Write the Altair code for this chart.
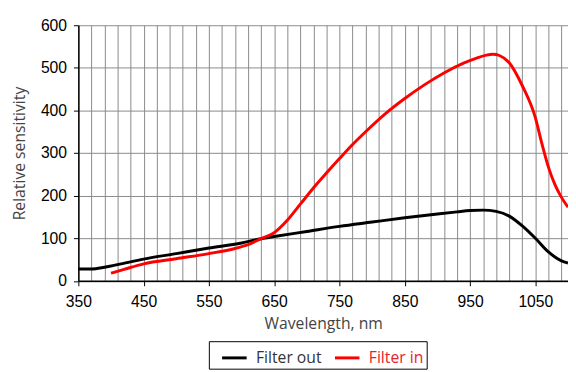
import altair as alt
import pandas as pd

# Filter out (black)
wl_out = [350, 370, 390, 410, 450, 500, 550, 600, 630, 650, 700, 750, 800, 850, 900,
          930, 950, 970, 990, 1010, 1030, 1050, 1070, 1090, 1100]
val_out = [28, 28, 32, 38, 51, 64, 77, 89, 99, 104, 116, 128, 138, 148, 157,
           162, 165, 166, 163, 152, 129, 100, 68, 47, 42]

# Filter in (red)
wl_in = [400, 420, 450, 500, 550, 590, 610, 630, 650, 670, 690, 710, 730, 750, 770,
         790, 820, 850, 880, 910, 940, 960, 975, 985, 995, 1010, 1030, 1050, 1060, 1070,
         1080, 1090, 1100]
val_in = [18, 27, 40, 52, 64, 76, 85, 99, 113, 142, 180, 218, 253, 287, 320,
          350, 392, 428, 460, 488, 511, 523, 530, 532, 529, 512, 458, 383, 322, 267,
          226, 196, 173]

series = ["Filter out", "Filter in"]
colors = ["#000000", "#ff0000"]

x_labels = [350, 450, 550, 650, 750, 850, 950, 1050]
x_grid = list(range(350, 1101, 20))
y_ticks = [0, 100, 200, 300, 400, 500, 600]

df = pd.concat([
    pd.DataFrame({"wl": wl_out, "val": val_out, "series": series[0], "order": 0}),
    pd.DataFrame({"wl": wl_in, "val": val_in, "series": series[1], "order": 1}),
])

label_test = "(datum.value - 350) % 100 == 0"

chart = alt.Chart(df).mark_line(strokeWidth=3, interpolate="monotone").encode(
    x=alt.X("wl:Q", scale=alt.Scale(domain=[350, 1100], nice=False, zero=False),
            axis=alt.Axis(values=x_grid, title="Wavelength, nm", format="d",
                          labelExpr=f"{label_test} ? datum.label : ''",
                          tickOpacity={"condition": {"test": label_test, "value": 1}, "value": 0},
                          tickSize=5, tickColor="black", labelPadding=8,
                          labelFont="Liberation Sans", labelFontSize=16, labelColor="black",
                          labelFlush=False, labelOverlap=False,
                          titleFont="Open Sans", titleFontSize=16, titleFontWeight="normal",
                          titleColor="#444444", titlePadding=7,
                          domainColor="black", domainWidth=1.5,
                          grid=True, gridColor="#8a8a8a", gridWidth=1)),
    y=alt.Y("val:Q", scale=alt.Scale(domain=[0, 600], nice=False),
            axis=alt.Axis(values=y_ticks, title="Relative sensitivity",
                          tickSize=5, tickColor="black", labelPadding=7,
                          labelFont="Liberation Sans", labelFontSize=16, labelColor="black",
                          titleFont="Open Sans", titleFontSize=16, titleFontWeight="normal",
                          titleColor="#444444", titlePadding=13,
                          domainColor="black", domainWidth=1.5,
                          grid=True, gridColor="#8a8a8a", gridWidth=1)),
    color=alt.Color("series:N", scale=alt.Scale(domain=series, range=colors),
                    legend=alt.Legend(title=None, orient="none", legendX=133, legendY=322,
                                      direction="horizontal", strokeColor="black",
                                      padding=3, columnPadding=3, symbolOffset=9,
                                      symbolType="stroke", symbolStrokeWidth=3, symbolSize=625,
                                      labelFont="Open Sans", labelFontSize=16, labelOffset=8,
                                      labelColor={"expr": "datum.label == 'Filter in' ? '#e8212b' : '#333333'"})),
    order="order:Q",
).properties(
    width=499, height=260.5,
    autosize=alt.AutoSizeParams(type="none"),
    padding={"left": 71.7, "top": 14, "right": 0, "bottom": 100},
).configure_view(stroke=None)

chart.save("out.html", embed_options={"renderer": "svg", "actions": False})
